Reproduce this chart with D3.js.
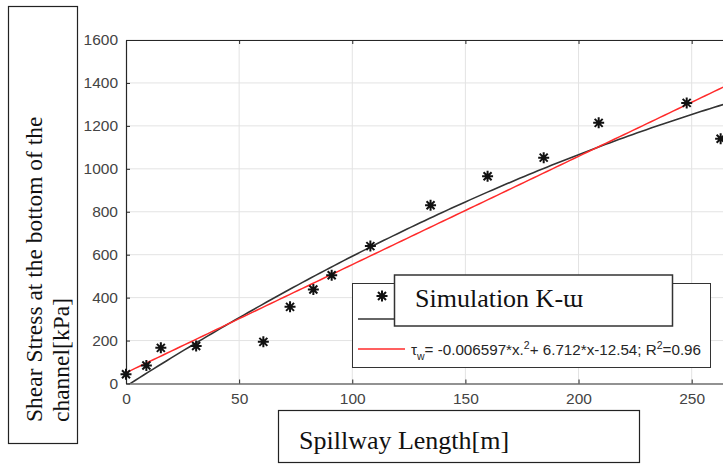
<!DOCTYPE html>
<html>
<head>
<meta charset="utf-8">
<script src="https://cdn.jsdelivr.net/npm/d3@7"></script>
<style>
  html, body { margin: 0; padding: 0; background: #fff; }
  svg { display: block; }
</style>
</head>
<body>
<svg id="chart" width="723" height="465"></svg>
<script>
// Measured shear stress along the spillway (simulation K-ω)
const lengthM = [0, 9, 15.4, 31, 60.7, 72.5, 82.8, 90.9, 108, 134.6, 159.8, 184.6, 208.9, 247.8, 262.8];
const stressKPa = [43, 84, 166, 175, 194, 357, 438, 504, 640, 830, 965, 1052, 1214, 1307, 1140];

// Quadratic fit: tau_w = a*x^2 + b*x + c
const quadCoef = [-0.006597, 6.712, -12.54];
// Straight trend line: tau = slope*x + intercept
const lineCoef = [5.04, 50];

const xTicks = [0, 50, 100, 150, 200, 250];
const yTicks = [0, 200, 400, 600, 800, 1000, 1200, 1400, 1600];

const fitLabel = "-0.006597*x.";
const fitLabelRest = "+ 6.712*x-12.54; R";
const fitLabelEnd = "=0.96";

const svg = d3.select("#chart");
const plotLeft = 126, plotTop = 40, plotBottom = 383.5;
const x = d3.scaleLinear().domain([0, 270]).range([plotLeft, plotLeft + 270 * 2.2627]);
const y = d3.scaleLinear().domain([0, 1600]).range([plotBottom, plotTop]);
const plotRight = x(270);

const sans = "'Liberation Sans', Arial, sans-serif";
const serif = "'Liberation Serif', 'Times New Roman', serif";
const axisColor = "#262626";

// grid
const grid = svg.append("g");
grid.selectAll("line.gx").data(xTicks.filter(d => d > 0)).join("line")
  .attr("x1", d => x(d)).attr("x2", d => x(d))
  .attr("y1", plotTop).attr("y2", plotBottom)
  .attr("stroke", "#e3e3e3").attr("stroke-width", 1);
grid.selectAll("line.gy").data(yTicks.filter(d => d > 0)).join("line")
  .attr("x1", plotLeft).attr("x2", plotRight)
  .attr("y1", d => y(d)).attr("y2", d => y(d))
  .attr("stroke", "#e3e3e3").attr("stroke-width", 1);

// axes (inward ticks, MATLAB style)
const fmt = d3.format("d");
const xAxis = d3.axisBottom(x).tickValues(xTicks).tickFormat(fmt).tickSizeInner(-4).tickSizeOuter(0).tickPadding(9);
const yAxis = d3.axisLeft(y).tickValues(yTicks).tickFormat(fmt).tickSizeInner(-4).tickSizeOuter(0).tickPadding(8);
const gx = svg.append("g").attr("transform", `translate(0,${plotBottom})`).call(xAxis);
const gy = svg.append("g").attr("transform", `translate(${plotLeft},0)`).call(yAxis);
const gxTop = svg.append("g").attr("transform", `translate(0,${plotTop})`)
  .call(d3.axisTop(x).tickValues(xTicks).tickSizeInner(-4).tickSizeOuter(0).tickFormat(""));
[gx, gy, gxTop].forEach(g => {
  g.select(".domain").attr("stroke", axisColor).attr("stroke-width", 1.2);
  g.selectAll(".tick line").attr("stroke", axisColor);
  g.selectAll(".tick text").attr("fill", "#444").attr("font-family", sans).attr("font-size", 15.5);
});

// curves, clipped to the plot area
svg.append("clipPath").attr("id", "plotClip").append("rect")
  .attr("x", plotLeft).attr("y", plotTop).attr("width", plotRight - plotLeft).attr("height", plotBottom - plotTop);
const xs = d3.range(0, 270.5, 2);
const quad = v => quadCoef[0] * v * v + quadCoef[1] * v + quadCoef[2];
const lin = v => lineCoef[0] * v + lineCoef[1];
const lineGen = f => d3.line().x(d => x(d)).y(d => y(f(d)))(xs);
const curves = svg.append("g").attr("clip-path", "url(#plotClip)");
curves.append("path").attr("d", lineGen(quad))
  .attr("fill", "none").attr("stroke", "#333").attr("stroke-width", 1.6);
curves.append("path").attr("d", lineGen(lin))
  .attr("fill", "none").attr("stroke", "#ff2b2b").attr("stroke-width", 1.5);

// asterisk markers
const star = "M-5.5,0L5.5,0M0,-5.5L0,5.5M-4,-4L4,4M-4,4L4,-4";
svg.append("g").selectAll("path").data(lengthM).join("path")
  .attr("transform", (d, i) => `translate(${x(d)},${y(stressKPa[i])})`)
  .attr("d", star).attr("fill", "none").attr("stroke", "#111").attr("stroke-width", 2);

// legend
const lg = svg.append("g");
lg.append("rect").attr("x", 352.5).attr("y", 283.5).attr("width", 358).attr("height", 84)
  .attr("fill", "#fff").attr("stroke", "#333").attr("stroke-width", 1);
lg.append("path").attr("transform", "translate(382,296)").attr("d", star)
  .attr("fill", "none").attr("stroke", "#111").attr("stroke-width", 2);
lg.append("line").attr("x1", 358).attr("x2", 400).attr("y1", 319).attr("y2", 319)
  .attr("stroke", "#333").attr("stroke-width", 1.6);
lg.append("line").attr("x1", 358).attr("x2", 405).attr("y1", 349).attr("y2", 349)
  .attr("stroke", "#ff2b2b").attr("stroke-width", 1.5);
const ft = lg.append("text").attr("x", 411).attr("y", 355)
  .attr("font-family", sans).attr("font-size", 15.2).attr("fill", "#262626");
ft.append("tspan").text("τ");
ft.append("tspan").attr("font-size", 10.5).attr("dy", 5).text("w");
ft.append("tspan").attr("dy", -5).text("= " + fitLabel);
ft.append("tspan").attr("font-size", 10.5).attr("dy", -6).text("2");
ft.append("tspan").attr("dy", 6).text(fitLabelRest);
ft.append("tspan").attr("font-size", 10.5).attr("dy", -6).text("2");
ft.append("tspan").attr("dy", 6).text(fitLabelEnd);

// series name box
lg.append("rect").attr("x", 394.5).attr("y", 275).attr("width", 278).attr("height", 51)
  .attr("fill", "#fff").attr("stroke", "#333").attr("stroke-width", 1.5);
lg.append("text").attr("x", 415).attr("y", 307)
  .attr("font-family", serif).attr("font-size", 26).attr("fill", "#111")
  .text("Simulation K-ɯ");

// y-axis title box
svg.append("rect").attr("x", 8.5).attr("y", 6.5).attr("width", 69).attr("height", 437)
  .attr("fill", "#fff").attr("stroke", "#222").attr("stroke-width", 1.2);
const yt = svg.append("text").attr("transform", "translate(42,422) rotate(-90)")
  .attr("font-family", serif).attr("font-size", 23.5).attr("fill", "#111");
yt.append("tspan").attr("x", 0).attr("y", 0).text("Shear Stress at the bottom of the");
yt.append("tspan").attr("x", 0).attr("y", 27).text("channel[kPa]");

// x-axis title box
svg.append("rect").attr("x", 278.5).attr("y", 410.5).attr("width", 361).attr("height", 52)
  .attr("fill", "#fff").attr("stroke", "#222").attr("stroke-width", 1.2);
svg.append("text").attr("x", 299).attr("y", 449)
  .attr("font-family", serif).attr("font-size", 26).attr("fill", "#111")
  .text("Spillway Length[m]");
</script>
</body>
</html>
